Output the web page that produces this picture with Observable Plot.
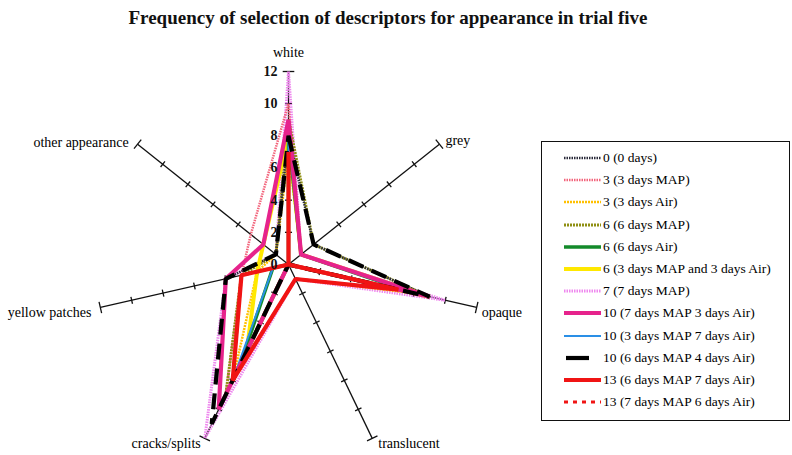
<!DOCTYPE html>
<html>
<head>
<meta charset="utf-8">
<script src="https://cdn.jsdelivr.net/npm/d3@7"></script>
<script src="https://cdn.jsdelivr.net/npm/@observablehq/plot@0.6"></script>
<style>
  body { margin: 0; background: #fff; font-family: "Liberation Serif", "DejaVu Serif", serif; }
  #wrap { position: relative; width: 792px; height: 455px; overflow: hidden; background: #fff; }
  #title { position: absolute; left: 0; top: 6px; width: 776px; text-align: center;
           font: bold 19px "Liberation Serif", serif; color: #111; line-height: 24px; }
  #chart { position: absolute; left: 0; top: 34px; }
  #legend { position: absolute; left: 541px; top: 141px; width: 249px; height: 280px;
            border: 1px solid #111; box-sizing: border-box; background: #fff; }
  .item { position: absolute; left: 0; height: 20px; display: flex; align-items: center; white-space: nowrap;
          font: 13.5px "Liberation Serif", serif; color: #000; }
  .item svg { margin-left: 22px; margin-right: 2px; }
</style>
</head>
<body>
<div id="wrap">
  <div id="title">Frequency of selection of descriptors for appearance in trial five</div>
  <div id="chart"></div>
  <div id="legend"></div>
</div>
<script>
// ---- data ----
const axes = ["white", "grey", "opaque", "translucent", "cracks/splits", "yellow patches", "other appearance"];
const tickValues = [0, 2, 4, 6, 8, 10, 12];
const maxValue = 12;

const seriesNames = [
  "0 (0 days)",
  "3 (3 days MAP)",
  "3 (3 days Air)",
  "6 (6 days MAP)",
  "6 (6 days Air)",
  "6 (3 days MAP and 3 days Air)",
  "7 (7 days MAP)",
  "10 (7 days MAP 3 days Air)",
  "10 (3 days MAP 7 days Air)",
  "10 (6 days MAP 4 days Air)",
  "13 (6 days MAP 7 days Air)",
  "13 (7 days MAP 6 days Air)"
];

// values per axis: white, grey, opaque, translucent, cracks/splits, yellow patches, other appearance
const day0        = [8, 2, 9, 0, 10, 4, 1];
const day3MAP     = [10, 1, 9, 0, 9, 3, 3];
const day3Air     = [7, 1, 8, 1, 8, 2, 1];
const day6MAP     = [9, 2, 9, 0, 9, 3, 1];
const day6Air     = [8, 1, 8, 0, 7, 1, 0];
const day6MAPAir  = [8, 1, 9, 0, 6, 2, 2];
const day7MAP     = [12, 1, 10, 1, 12, 4, 1];
const day10_7M3A  = [9, 1, 9, 0, 10, 4, 2];
const day10_3M7A  = [8, 1, 8, 0, 8, 1, 0];
const day10_6M4A  = [8, 2, 9, 0, 11, 4, 1];
const day13_6M7A  = [7, 0, 7, 1, 8, 3, 0];
const day13_7M6A  = [7, 0, 7, 1, 8, 3, 0];

const seriesValues = [day0, day3MAP, day3Air, day6MAP, day6Air, day6MAPAir, day7MAP,
                      day10_7M3A, day10_3M7A, day10_6M4A, day13_6M7A, day13_7M6A];

// ---- styles (not data) ----
const styles = [
  {stroke: "#2b2b3a", width: 2.5, dash: "1.5 1"},
  {stroke: "#f2657c", width: 2.5, dash: "1.5 1"},
  {stroke: "#ffc000", width: 2.5, dash: "2 1"},
  {stroke: "#8f8f12", width: 3,   dash: "2 1"},
  {stroke: "#138a2a", width: 3.5, dash: null},
  {stroke: "#ffe800", width: 4,   dash: null},
  {stroke: "#ee88ee", width: 3,   dash: "1.5 1"},
  {stroke: "#e6238c", width: 4.2, dash: null},
  {stroke: "#2a8fe6", width: 2,   dash: null},
  {stroke: "#000000", width: 4.2, dash: "16 9"},
  {stroke: "#f01414", width: 4.2, dash: null},
  {stroke: "#f01414", width: 3,   dash: "4 5"}
];
// drawing order, bottom to top
const drawOrder = [6, 1, 2, 3, 0, 5, 4, 8, 7, 9, 10, 11];

// axis label placement (pixels)
const labelLayout = [
  {anchor: "middle", dx: 0,  dy: -19},
  {anchor: "start",  dx: 6,  dy: -4},
  {anchor: "start",  dx: 5,  dy: 5},
  {anchor: "start",  dx: 6,  dy: 5},
  {anchor: "end",    dx: -4, dy: 5},
  {anchor: "end",    dx: -9, dy: 5},
  {anchor: "end",    dx: -9, dy: -2}
];

// ---- geometry helpers ----
const N = axes.length;
const theta = i => i * 2 * Math.PI / N;
const px = (v, i) => v * Math.sin(theta(i));
const py = (v, i) => v * Math.cos(theta(i));

const spokes = axes.map((a, i) => ({a, i}));
const ticks = [];
axes.forEach((a, i) => tickValues.filter(t => t > 0).forEach(t => ticks.push({i, t, h: t === maxValue ? 0.36 : 0.22})));

const font = "Liberation Serif";
const marks = [];

marks.push(Plot.link(spokes, {
  x1: () => 0, y1: () => 0,
  x2: d => px(maxValue, d.i), y2: d => py(maxValue, d.i),
  stroke: "#111", strokeWidth: 1.3
}));
marks.push(Plot.link(ticks, {
  x1: d => px(d.t, d.i) + d.h * Math.cos(theta(d.i)),
  y1: d => py(d.t, d.i) - d.h * Math.sin(theta(d.i)),
  x2: d => px(d.t, d.i) - d.h * Math.cos(theta(d.i)),
  y2: d => py(d.t, d.i) + d.h * Math.sin(theta(d.i)),
  stroke: "#111", strokeWidth: 1.3
}));

drawOrder.forEach(k => {
  const vals = seriesValues[k];
  const pts = vals.map((v, i) => ({v, i}));
  const s = styles[k];
  marks.push(Plot.line(pts, {
    x: d => px(d.v, d.i), y: d => py(d.v, d.i),
    curve: "linear-closed",
    stroke: s.stroke, strokeWidth: s.width,
    strokeDasharray: s.dash || undefined,
    strokeLinejoin: "miter", strokeLinecap: "butt"
  }));
});

marks.push(Plot.text(tickValues, {
  x: () => 0, y: d => d, text: d => String(d),
  dx: -11, textAnchor: "end", fontSize: 14, fontWeight: "bold", fontFamily: font, fill: "#111"
}));

axes.forEach((a, i) => {
  const L = labelLayout[i];
  marks.push(Plot.text([a], {
    x: () => px(maxValue, i), y: () => py(maxValue, i), text: d => d,
    dx: L.dx, dy: L.dy, textAnchor: L.anchor,
    fontSize: 14, fontFamily: font, fill: "#000"
  }));
});

const chart = Plot.plot({
  width: 792, height: 421, margin: 0,
  x: {domain: [0, maxValue], range: [288, 481], axis: null},
  y: {domain: [0, maxValue], range: [230, 37], axis: null},
  style: {background: "transparent", overflow: "visible"},
  marks
});
document.getElementById("chart").append(chart);

// ---- legend ----
const legend = d3.select("#legend");
seriesNames.forEach((name, k) => {
  const s = styles[k];
  const row = legend.append("div").attr("class", "item").style("top", (6 + k * 22.2) + "px");
  const sw = row.append("svg").attr("width", 37).attr("height", 10);
  const isBlack = k === 9;
  sw.append("line")
    .attr("x1", isBlack ? 2 : 0).attr("x2", isBlack ? 25 : 37)
    .attr("y1", 5).attr("y2", 5)
    .attr("stroke", s.stroke).attr("stroke-width", s.width)
    .attr("stroke-dasharray", isBlack ? null : s.dash);
  row.append("span").text(name);
});
</script>
</body>
</html>
